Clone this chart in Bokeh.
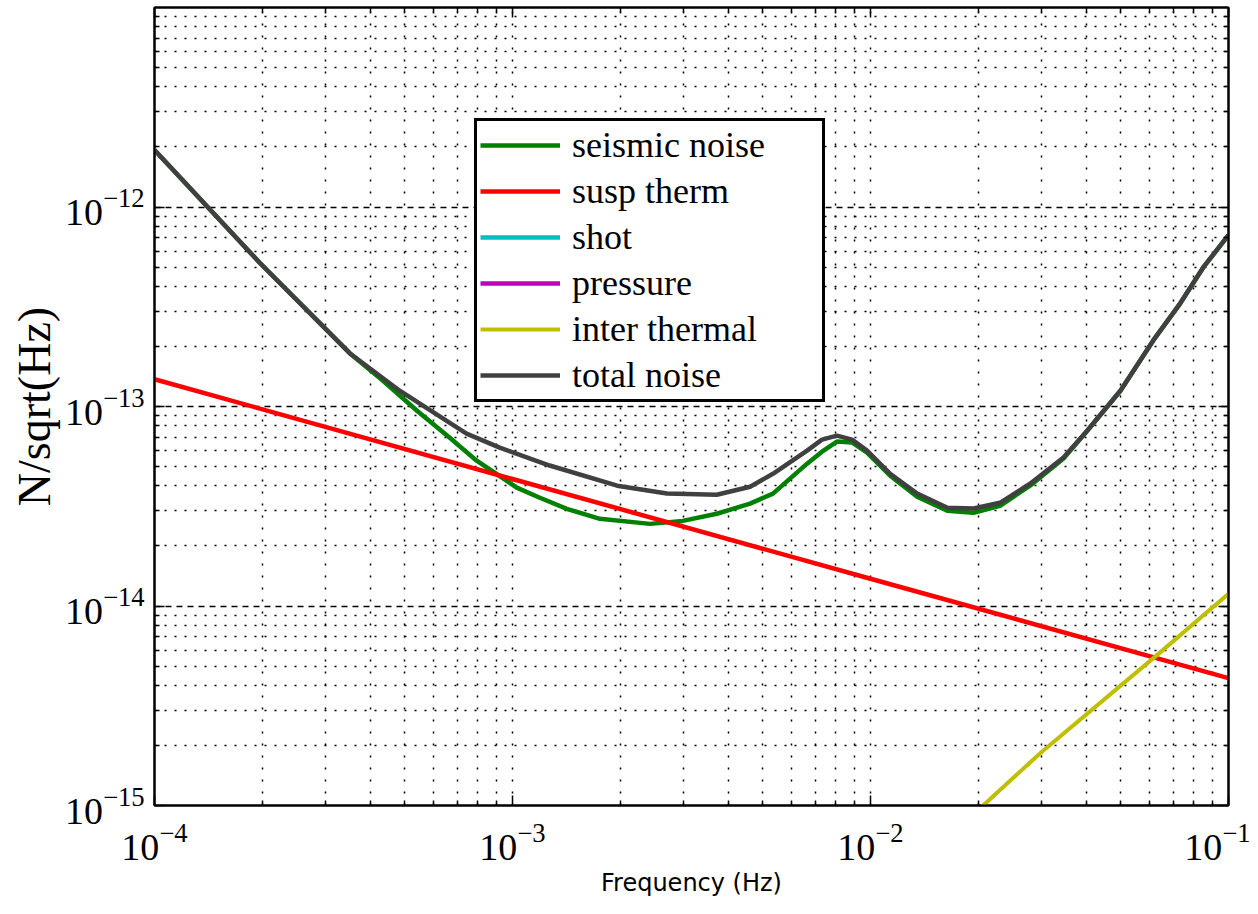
from bokeh.plotting import figure
from bokeh.models import LogAxis, FixedTicker, Legend, LegendItem, Range1d, CustomJSTickFormatter
from bokeh.embed import file_html
from bokeh.resources import INLINE

NaN = float("nan")

# ---- data ----
freq_seismic = [1.0e-4, 1.97e-4, 3.51e-4, 4.34e-4, 5.40e-4, 6.68e-4, 7.94e-4, 1.028e-3,
                1.192e-3, 1.418e-3, 1.754e-3, 2.42e-3, 2.99e-3, 3.72e-3, 4.61e-3, 5.34e-3,
                6.65e-3, 7.32e-3, 8.06e-3, 8.88e-3, 9.78e-3, 1.135e-2, 1.35e-2, 1.64e-2,
                1.94e-2, 2.30e-2, 2.79e-2, 3.46e-2, 4.03e-2, 4.99e-2, 6.17e-2, 7.34e-2,
                8.51e-2, 1.0e-1]
asd_seismic = [1.93e-12, 5.24e-13, 1.85e-13, 1.35e-13, 9.55e-14, 6.98e-14, 5.35e-14, 3.92e-14,
               3.49e-14, 3.07e-14, 2.735e-14, 2.58e-14, 2.67e-14, 2.90e-14, 3.26e-14, 3.66e-14,
               5.17e-14, 5.94e-14, 6.67e-14, 6.60e-14, 5.87e-14, 4.50e-14, 3.53e-14, 3.00e-14,
               2.93e-14, 3.18e-14, 4.01e-14, 5.48e-14, 7.56e-14, 1.20e-13, 2.15e-13, 3.30e-13,
               4.99e-13, 7.23e-13]

freq_susp = [1.0e-4, 1.0e-3, 1.0e-2, 1.0e-1]
asd_susp = [1.37e-13, 4.33e-14, 1.37e-14, 4.35e-15]

# shot and pressure noise are not visible inside the plotted range
freq_shot = [NaN]
asd_shot = [NaN]

freq_pressure = [NaN]
asd_pressure = [NaN]

freq_inter = [2.0e-2, 3.0e-2, 6.17e-2, 1.0e-1]
asd_inter = [0.95e-15, 1.85e-15, 5.48e-15, 1.15e-14]

freq_total = [1.0e-4, 1.97e-4, 3.51e-4, 4.84e-4, 7.44e-4, 9.21e-4, 1.27e-3, 1.96e-3,
              2.70e-3, 3.72e-3, 4.61e-3, 5.34e-3, 6.65e-3, 7.32e-3, 8.06e-3, 8.88e-3,
              9.78e-3, 1.135e-2, 1.35e-2, 1.64e-2, 1.94e-2, 2.30e-2, 2.79e-2, 3.46e-2,
              4.03e-2, 4.99e-2, 6.17e-2, 7.34e-2, 8.51e-2, 1.0e-1]
asd_total = [1.93e-12, 5.24e-13, 1.85e-13, 1.20e-13, 7.31e-14, 6.22e-14, 5.06e-14, 4.01e-14,
             3.66e-14, 3.61e-14, 3.96e-14, 4.60e-14, 6.01e-14, 6.82e-14, 7.14e-14, 6.82e-14,
             6.01e-14, 4.60e-14, 3.66e-14, 3.11e-14, 3.08e-14, 3.29e-14, 4.10e-14, 5.55e-14,
             7.56e-14, 1.20e-13, 2.15e-13, 3.30e-13, 4.99e-13, 7.23e-13]

series_names = ["seismic noise", "susp therm", "shot", "pressure", "inter thermal", "total noise"]
series_colors = ["#008000", "#ff0000", "#00bfbf", "#bf00bf", "#bfbf00", "#404040"]

x_major = [1e-4, 1e-3, 1e-2, 1e-1]
y_major = [1e-15, 1e-14, 1e-13, 1e-12]
x_minor = [m * 10.0 ** e for e in range(-4, -1) for m in range(2, 10)]
y_minor = [m * 10.0 ** e for e in range(-15, -11) for m in range(2, 10)]

# ---- figure ----
p = figure(width=1250, height=912, x_axis_type="log", y_axis_type="log",
           x_range=Range1d(1e-4, 1e-1), y_range=Range1d(1e-15, 1e-11),
           output_backend="svg", toolbar_location=None,
           min_border_left=154, min_border_right=22, min_border_top=7, min_border_bottom=107)

p.outline_line_color = "black"
p.outline_line_width = 2
p.outline_line_alpha = 1.0
p.background_fill_color = "white"
p.border_fill_color = "white"

xt = FixedTicker(ticks=x_major, minor_ticks=x_minor)
yt = FixedTicker(ticks=y_major, minor_ticks=y_minor)

for ax in p.xaxis:
    ax.ticker = xt
for ax in p.yaxis:
    ax.ticker = yt

def style_axis(ax):
    ax.axis_line_width = 2
    ax.axis_line_color = "black"
    ax.major_tick_in = 10
    ax.major_tick_out = 0
    ax.minor_tick_in = 5
    ax.minor_tick_out = 0
    ax.major_tick_line_width = 1.5
    ax.minor_tick_line_width = 1.5
    ax.major_tick_line_color = "black"
    ax.minor_tick_line_color = "black"
    ax.major_label_text_font = "Liberation Serif"
    ax.major_label_text_font_size = "38px"
    ax.major_label_text_color = "black"

for ax in p.xaxis + p.yaxis:
    style_axis(ax)

p.xaxis.axis_label = "Frequency (Hz)"
p.xaxis.axis_label_text_font = "DejaVu Sans"
p.xaxis.axis_label_text_font_size = "24px"
p.xaxis.axis_label_text_font_style = "normal"
p.xaxis.axis_label_text_color = "black"
p.xaxis.major_label_standoff = 18
p.xaxis.axis_label_standoff = 6

p.yaxis.axis_label = "N/sqrt(Hz)"
p.yaxis.axis_label_text_font = "Liberation Serif"
p.yaxis.axis_label_text_font_size = "46px"
p.yaxis.axis_label_text_font_style = "normal"
p.yaxis.axis_label_text_color = "black"
p.yaxis.major_label_standoff = 10
p.yaxis.axis_label_standoff = 2

# mirrored axes (ticks only) on top and right
blank = CustomJSTickFormatter(code="return ''")
top_ax = LogAxis(ticker=xt, formatter=blank)
right_ax = LogAxis(ticker=yt, formatter=blank)
for ax in (top_ax, right_ax):
    style_axis(ax)
    ax.major_label_text_font_size = "10px"
    ax.major_label_standoff = 0
p.add_layout(top_ax, "above")
p.add_layout(right_ax, "right")

# grids
p.xgrid.ticker = xt
p.ygrid.ticker = FixedTicker(ticks=y_major + [1e-11], minor_ticks=y_minor)
p.xgrid.grid_line_color = "black"
p.xgrid.grid_line_dash = "2 10"
p.xgrid.grid_line_width = 1.5
p.xgrid.minor_grid_line_color = "black"
p.xgrid.minor_grid_line_dash = "2 10"
p.xgrid.minor_grid_line_width = 1.5
p.ygrid.grid_line_color = "black"
p.ygrid.grid_line_dash = "6 5"
p.ygrid.grid_line_width = 1.5
p.ygrid.minor_grid_line_color = "black"
p.ygrid.minor_grid_line_dash = "2 8"
p.ygrid.minor_grid_line_width = 1.5

# lines (drawn in MATLAB order so total noise is on top)
data = [(freq_seismic, asd_seismic), (freq_susp, asd_susp), (freq_shot, asd_shot),
        (freq_pressure, asd_pressure), (freq_inter, asd_inter), (freq_total, asd_total)]
widths = [4.5, 4.5, 4.5, 4.5, 4, 4.5]
items = []
for (fx, fy), name, col, w in zip(data, series_names, series_colors, widths):
    r = p.line(fx, fy, line_color=col, line_width=w, line_join="round")
    items.append(LegendItem(label=name, renderers=[r]))

legend = Legend(items=items, location=(320, 403),
                label_text_font="Liberation Serif", label_text_font_size="36px",
                label_text_color="black",
                glyph_width=80, glyph_height=40, label_height=40, label_width=247,
                label_standoff=12, spacing=4, padding=3,
                border_line_color="black", border_line_width=3, border_line_alpha=1.0,
                background_fill_color="white", background_fill_alpha=1.0,
                margin=0)
p.add_layout(legend, "center")

open("out.html", "w").write(file_html(p, INLINE))
